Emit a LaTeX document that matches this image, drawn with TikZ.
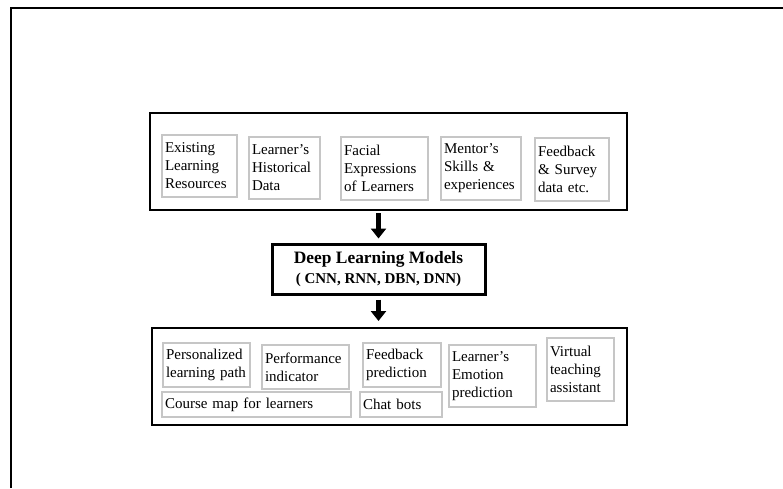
\documentclass[tikz,border=0pt]{standalone}
\usepackage{fontspec}
\setmainfont{Liberation Serif}
\usetikzlibrary{arrows.meta}

\tikzset{
  groupbox/.style={draw, line width=2pt, minimum width=#1, minimum height=97pt},
  itembox/.style={draw=gray!45, line width=1.5pt, align=left, inner sep=3pt,
    font=\fontsize{15}{18}\selectfont},
  modelbox/.style={draw, line width=3pt, align=center, minimum width=213pt, minimum height=50pt,
    font=\fontsize{15}{20}\selectfont\bfseries},
  bigarrow/.style={line width=5.5pt, -{Triangle[width=15pt,length=10pt]}}
}

\begin{document}
\begin{tikzpicture}[x=1pt,y=-1pt]
\useasboundingbox (0,0) rectangle (783,488);
\draw[line width=2pt] (11,488) -- (11,8) -- (783,8);

% inputs
\node[groupbox=477pt] (inputs) at (388.5,161.5) {};
\node[itembox, minimum width=75pt, minimum height=62pt, text width=69pt] (existing) at (199.5,166) {Existing\\Learning\\Resources};
\node[itembox, minimum width=71pt, minimum height=62pt, text width=65pt] (history) at (284.5,168) {Learner’s\\Historical\\Data};
\node[itembox, minimum width=87pt, minimum height=63pt, text width=81pt] (facial) at (384.5,168.5) {Facial\\Expressions\\of Learners};
\node[itembox, minimum width=80pt, minimum height=63pt, text width=74pt] (mentor) at (481,168.5) {Mentor’s\\Skills \&\\experiences};
\node[itembox, minimum width=74pt, minimum height=63pt, text width=68pt] (survey) at (572,169.5) {Feedback\\\& Survey\\data etc.};

% models
\node[modelbox] (models) at (378.5,269) {{\fontsize{17.4}{20}\selectfont Deep Learning Models}\\( CNN, RNN, DBN, DNN)};

% outputs
\node[groupbox=475pt] (outputs) at (389.5,376.5) {};
\node[itembox, minimum width=87pt, minimum height=44pt, text width=81pt] (path) at (206.5,365) {Personalized\\learning path};
\node[itembox, minimum width=87pt, minimum height=44pt, text width=81pt] (perf) at (305.5,367) {Performance\\indicator};
\node[itembox, minimum width=78pt, minimum height=44pt, text width=72pt] (fbpred) at (402,365) {Feedback\\prediction};
\node[itembox, minimum width=87pt, minimum height=62pt, text width=81pt] (emotion) at (492.5,376) {Learner’s\\Emotion\\prediction};
\node[itembox, minimum width=67pt, minimum height=63pt, text width=61pt] (virtual) at (580.5,369.5) {Virtual\\teaching\\assistant};
\node[itembox, minimum width=189pt, minimum height=25pt, text width=183pt] (coursemap) at (256.5,404.5) {Course map for learners};
\node[itembox, minimum width=82pt, minimum height=25pt, text width=76pt] (chatbots) at (401,404.5) {Chat bots};

\draw[bigarrow, shorten <=2pt, shorten >=4pt] (models.north |- inputs.south) -- (models.north);
\draw[bigarrow, shorten <=4pt, shorten >=6pt] (models.south) -- (models.south |- outputs.north);
\end{tikzpicture}
\end{document}
